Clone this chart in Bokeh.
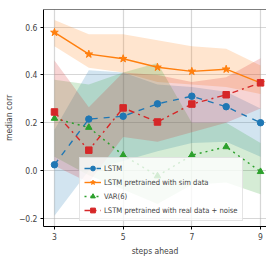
from bokeh.plotting import figure
from bokeh.embed import file_html
from bokeh.resources import INLINE
from bokeh.models import FixedTicker, CustomJSTickFormatter, Legend, Span
from bokeh.core.properties import value

steps = [3, 4, 5, 6, 7, 8, 9]
x_ticks = [3, 5, 7, 9]
y_ticks = [-0.2, 0.0, 0.2, 0.4, 0.6]

lstm = [0.024, 0.215, 0.227, 0.279, 0.311, 0.267, 0.200]
lstm_lo = [-0.19, 0.00, 0.04, 0.08, 0.115, 0.12, 0.057]
lstm_hi = [0.17, 0.42, 0.41, 0.36, 0.35, 0.33, 0.26]

sim = [0.578, 0.487, 0.468, 0.432, 0.415, 0.424, 0.367]
sim_lo = [0.52, 0.43, 0.41, 0.37, 0.36, 0.35, 0.32]
sim_hi = [0.63, 0.57, 0.57, 0.545, 0.52, 0.51, 0.44]

var6 = [0.218, 0.180, 0.064, -0.023, 0.064, 0.099, -0.005]
var6_lo = [0.057, -0.02, -0.08, -0.14, -0.06, -0.05, -0.10]
var6_hi = [0.38, 0.36, 0.41, 0.45, 0.20, 0.20, 0.115]

real = [0.245, 0.085, 0.262, 0.203, 0.278, 0.317, 0.367]
real_lo = [0.02, -0.05, 0.14, 0.12, 0.16, 0.20, 0.26]
real_hi = [0.46, 0.265, 0.41, 0.40, 0.37, 0.39, 0.47]

FONT = "DejaVu Sans Condensed, Liberation Sans Narrow, DejaVu Sans, sans-serif"
Y_TOP = 0.674

p = figure(width=266, height=258, x_range=(2.681, 9.174), y_range=(-0.2346, Y_TOP),
           output_backend="svg", toolbar_location=None,
           min_border_left=42, min_border_top=9, min_border_right=0, min_border_bottom=31)

series = [
    ("LSTM", lstm, lstm_lo, lstm_hi, "#1f77b4", "dashed", "circle"),
    ("LSTM pretrained with sim data", sim, sim_lo, sim_hi, "#ff7f0e", "solid", "star"),
    ("VAR(6)", var6, var6_lo, var6_hi, "#2ca02c", "dotted", "triangle"),
    ("LSTM pretrained with real data + noise", real, real_lo, real_hi, "#d62728", "dashdot", "square"),
]

for name, y, lo, hi, c, dash, m in series:
    p.varea(x=steps, y1=lo, y2=hi, fill_color=c, fill_alpha=0.2)

items = []
for name, y, lo, hi, c, dash, m in series:
    l = p.line(steps, y, line_color=c, line_width=1.4, line_dash=dash)
    s = p.scatter(steps, y, marker=m, size=8 if m == "star" else 6.5, fill_color=c, line_color=c)
    items.append((name, [l, s]))

legend = Legend(items=items, location=(36, 5))
legend.label_text_font = FONT
legend.label_text_font_size = "7.6px"
legend.glyph_width = 17
legend.glyph_height = 12
legend.label_height = 12
legend.label_standoff = 3
legend.spacing = 2
legend.padding = 4
legend.margin = 0
legend.border_line_color = "#cccccc"
legend.background_fill_alpha = 0.8
p.add_layout(legend, "center")

p.xaxis.ticker = FixedTicker(ticks=x_ticks)
p.yaxis.ticker = FixedTicker(ticks=y_ticks)
p.yaxis.formatter = CustomJSTickFormatter(code="return tick.toFixed(1).replace('-', '\u2212');")
p.xaxis.axis_label = "steps ahead"
p.yaxis.axis_label = "median corr"
for ax in (p.xaxis, p.yaxis):
    ax.axis_label_text_font = FONT
    ax.axis_label_text_font_size = "8.5px"
    ax.axis_label_text_font_style = "normal"
    ax.major_label_text_font = FONT
    ax.major_label_text_font_size = "8.5px"
    ax.major_tick_out = 3
    ax.major_tick_in = 0
    ax.minor_tick_line_color = None
    ax.axis_line_color = "black"
    ax.major_label_standoff = 3
p.xaxis.axis_label_standoff = 3
p.yaxis.axis_label_standoff = 2

p.grid.grid_line_color = "#b0b0b0"
p.grid.grid_line_alpha = 0.5
p.grid.grid_line_width = 1.2
p.outline_line_color = None
p.add_layout(Span(location=Y_TOP, dimension="width", line_color="black", line_width=1.2))

open("out.html", "w").write(file_html(p, INLINE))
